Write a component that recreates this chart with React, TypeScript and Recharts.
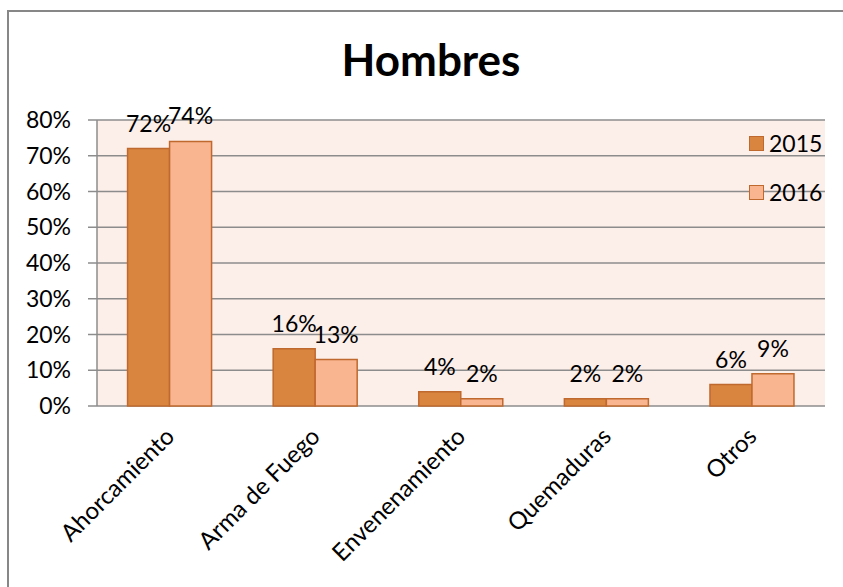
import React from "react";
import {
  BarChart,
  Bar,
  XAxis,
  YAxis,
  CartesianGrid,
  LabelList,
} from "recharts";

const categories = [
  "Ahorcamiento",
  "Arma de Fuego",
  "Envenenamiento",
  "Quemaduras",
  "Otros",
];
const values2015 = [72, 16, 4, 2, 6];
const values2016 = [74, 13, 2, 2, 9];
const yTicks = [0, 10, 20, 30, 40, 50, 60, 70, 80];
const boundaryTicks = [0, 1, 2, 3, 4, 5];
const seriesNames = ["2015", "2016"];

const data = categories.map((name, i) => ({
  name,
  y2015: values2015[i],
  y2016: values2016[i],
}));

const FONT = "Lato, 'Open Sans', sans-serif";
const C2015 = "#D9843F";
const C2016 = "#F8B58F";
const EDGE = "#C0692E";
const GRID = "#8C8C8C";
const FS = 24;

const CategoryTick = (props: any) => {
  const { x, y, payload } = props;
  const ax = x + 6;
  const ay = y + 32;
  return (
    <text
      x={ax}
      y={ay}
      transform={`rotate(-45 ${ax} ${ay})`}
      textAnchor="end"
      fontSize={FS}
      fontFamily={FONT}
      fill="#000"
    >
      {payload.value}
    </text>
  );
};

const BarLabel = (props: any) => {
  const { x, y, width, value } = props;
  return (
    <text
      x={x + width / 2}
      y={y - 17}
      textAnchor="middle"
      fontSize={FS - 1}
      fontFamily={FONT}
      fill="#000"
    >
      {value}%
    </text>
  );
};

export default function App() {
  const colors = [C2015, C2016];
  return (
    <div
      style={{
        position: "absolute",
        left: 0,
        top: 0,
        width: 843,
        height: 587,
        overflow: "hidden",
        background: "#fff",
      }}
    >
      <div
        style={{
          position: "absolute",
          left: 7,
          top: 10,
          width: 900,
          height: 700,
          borderLeft: "2px solid #878787",
          borderTop: "2px solid #878787",
        }}
      />
      <div
        style={{
          position: "absolute",
          left: 0,
          top: 37,
          width: 862,
          textAlign: "center",
          fontFamily: FONT,
          fontWeight: 700,
          fontSize: 44,
          lineHeight: "44px",
          color: "#000",
        }}
      >
        Hombres
      </div>
      <div style={{ position: "absolute", left: 0, top: 0 }}>
        <BarChart
          width={843}
          height={587}
          data={data}
          margin={{ top: 120, right: 18, bottom: 31, left: 47 }}
          barCategoryGap="21%"
          barGap={0}
        >
          <CartesianGrid
            vertical={false}
            fill="#FCEEE9"
            stroke={GRID}
            strokeWidth={1.5}
          />
          <XAxis
            xAxisId="edges"
            type="number"
            domain={[0, 5]}
            ticks={boundaryTicks}
            tick={false}
            height={0}
            tickSize={9}
            axisLine={{ stroke: GRID, strokeWidth: 1.5 }}
            tickLine={{ stroke: GRID, strokeWidth: 1.5 }}
          />
          <XAxis
            dataKey="name"
            interval={0}
            height={150}
            axisLine={false}
            tickLine={false}
            tickSize={0}
            tickMargin={0}
            tick={<CategoryTick />}
          />
          <YAxis
            width={50}
            domain={[0, 80]}
            ticks={yTicks}
            interval={0}
            tickFormatter={(v: number) => `${v}%`}
            tickSize={9}
            tickMargin={17}
            axisLine={{ stroke: GRID, strokeWidth: 1.5 }}
            tickLine={{ stroke: GRID, strokeWidth: 1.5 }}
            tick={{ fill: "#000", fontSize: FS - 1, fontFamily: FONT }}
          />
          <Bar
            dataKey="y2015"
            name={seriesNames[0]}
            fill={C2015}
            stroke={EDGE}
            strokeWidth={1.5}
            isAnimationActive={false}
          >
            <LabelList dataKey="y2015" content={<BarLabel />} />
          </Bar>
          <Bar
            dataKey="y2016"
            name={seriesNames[1]}
            fill={C2016}
            stroke={EDGE}
            strokeWidth={1.5}
            isAnimationActive={false}
          >
            <LabelList dataKey="y2016" content={<BarLabel />} />
          </Bar>
        </BarChart>
      </div>
      <div
        style={{
          position: "absolute",
          left: 749,
          top: 133,
          fontFamily: FONT,
          fontSize: FS - 1,
          color: "#000",
        }}
      >
        {seriesNames.map((s, i) => (
          <div
            key={s}
            style={{
              display: "flex",
              alignItems: "center",
              height: 20,
              marginBottom: i === 0 ? 29 : 0,
            }}
          >
            <span
              style={{
                display: "inline-block",
                width: 13,
                height: 13,
                background: colors[i],
                border: `1.5px solid ${EDGE}`,
                marginRight: 5,
              }}
            />
            <span>{s}</span>
          </div>
        ))}
      </div>
    </div>
  );
}
